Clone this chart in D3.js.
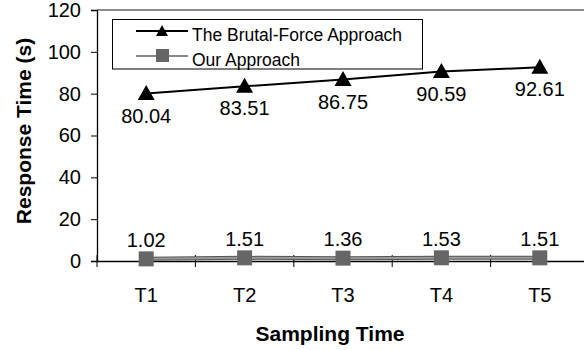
<!DOCTYPE html>
<html><head><meta charset="utf-8">
<script src="https://cdn.jsdelivr.net/npm/d3@7"></script>
<style>body{margin:0;background:#fff}svg{display:block;font-family:"Liberation Sans",Arial,sans-serif}</style>
</head><body>
<svg id="c" width="584" height="350"></svg>
<script>
const categories = ["T1","T2","T3","T4","T5"];
const brutal = [80.04, 83.51, 86.75, 90.59, 92.61];
const ours = [1.02, 1.51, 1.36, 1.53, 1.51];
const yTicks = [0,20,40,60,80,100,120];
const seriesNames = ["The Brutal-Force Approach","Our Approach"];

const FONT = "Liberation Sans, Arial, sans-serif";
const svg = d3.select("#c");
const L = 97, T = 10, B = 261, R = 589;
const x = d3.scaleBand().domain(categories).range([L, R]);
const y = d3.scaleLinear().domain([0,120]).range([B, T]);

// top border
svg.append("line").attr("x1",L).attr("x2",R).attr("y1",T).attr("y2",T)
  .attr("stroke","#8c8c8c").attr("stroke-width",2);

// y axis
const ya = svg.append("g").attr("transform",`translate(${L},0)`)
  .call(d3.axisLeft(y).tickValues(yTicks).tickSize(6).tickPadding(10));
ya.select(".domain").attr("stroke","#000").attr("stroke-width",1.3);
ya.selectAll(".tick line").attr("stroke","#000");
ya.selectAll("text").attr("font-size",20).attr("fill","#000").attr("font-family",FONT);

// x axis
const xa = svg.append("g").attr("transform",`translate(0,${B})`)
  .call(d3.axisBottom(x).tickSize(0).tickPadding(27));
xa.select(".domain").attr("stroke","#000").attr("stroke-width",1.3);
xa.selectAll("text").attr("font-size",20).attr("fill","#000").attr("font-family",FONT);
// category boundary ticks
const bounds = categories.map(c => x(c)).concat([x(categories[categories.length-1]) + x.bandwidth()]);
svg.append("g").selectAll("line").data(bounds).join("line")
  .attr("x1",d=>d).attr("x2",d=>d).attr("y1",B-6).attr("y2",B+6)
  .attr("stroke","#000").attr("stroke-width",1);

const cx = c => x(c) + x.bandwidth()/2;

// Our approach line
const lineOurs = d3.line().x((d,i)=>cx(categories[i])).y(d=>y(d));
svg.append("path").datum(ours).attr("d",lineOurs).attr("fill","none")
  .attr("stroke","#555").attr("stroke-width",4);
svg.append("path").datum(ours).attr("d",lineOurs).attr("fill","none")
  .attr("stroke","#9a9a9a").attr("stroke-width",2);
svg.append("g").selectAll("rect").data(ours).join("rect")
  .attr("x",(d,i)=>cx(categories[i])-7.5).attr("y",d=>y(d)-7.5)
  .attr("width",15).attr("height",15).attr("fill","#666");
svg.append("g").selectAll("text").data(ours).join("text")
  .attr("x",(d,i)=>cx(categories[i])).attr("y",d=>y(d)-12)
  .attr("text-anchor","middle").attr("font-size",20).text(d=>d.toFixed(2));

// Brutal force line
const lineB = d3.line().x((d,i)=>cx(categories[i])).y(d=>y(d));
svg.append("path").datum(brutal).attr("d",lineB).attr("fill","none")
  .attr("stroke","#000").attr("stroke-width",2);
const triPath = (w,h) => `M0,${-h/2}L${w/2},${h/2}L${-w/2},${h/2}Z`;
svg.append("g").selectAll("path").data(brutal).join("path")
  .attr("d",triPath(17,15)).attr("transform",(d,i)=>`translate(${cx(categories[i])},${y(d)-1})`)
  .attr("fill","#000");
svg.append("g").selectAll("text").data(brutal).join("text")
  .attr("x",(d,i)=>cx(categories[i])).attr("y",d=>y(d)+29)
  .attr("text-anchor","middle").attr("font-size",20).text(d=>d.toFixed(2));

// legend
const lg = svg.append("g");
lg.append("rect").attr("x",112.5).attr("y",19.5).attr("width",310).attr("height",49.5)
  .attr("fill","#fff").attr("stroke","#000").attr("stroke-width",1);
// row 1
lg.append("line").attr("x1",136).attr("x2",188).attr("y1",31).attr("y2",31).attr("stroke","#000").attr("stroke-width",2);
lg.append("path").attr("d",triPath(12,11)).attr("transform","translate(162,30.5)").attr("fill","#000");
lg.append("text").attr("x",192).attr("y",41).attr("font-size",17.5).text(seriesNames[0]);
// row 2
lg.append("line").attr("x1",136).attr("x2",188).attr("y1",56).attr("y2",56).attr("stroke","#888").attr("stroke-width",2);
lg.append("rect").attr("x",156).attr("y",49).attr("width",13).attr("height",13).attr("fill","#666");
lg.append("text").attr("x",192).attr("y",65.5).attr("font-size",17.5).text(seriesNames[1]);

// titles
svg.append("text").attr("x",330).attr("y",341).attr("text-anchor","middle")
  .attr("font-size",21).attr("font-weight","bold").text("Sampling Time");
svg.append("text").attr("transform",`translate(31,131) rotate(-90)`).attr("text-anchor","middle")
  .attr("font-size",21).attr("font-weight","bold").text("Response Time (s)");
</script>
</body></html>
